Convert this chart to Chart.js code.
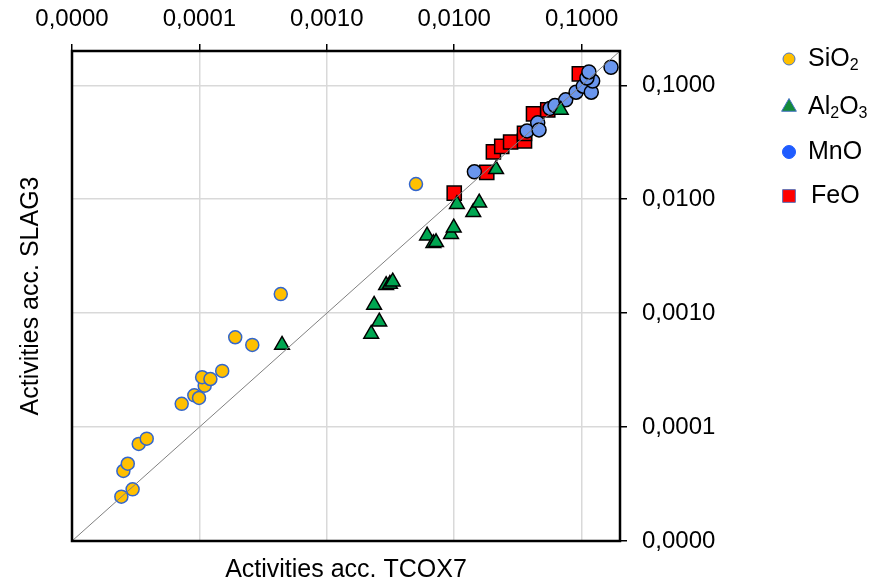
<!DOCTYPE html>
<html>
<head>
<meta charset="utf-8">
<script src="https://cdn.jsdelivr.net/npm/chart.js@4.4.0/dist/chart.umd.min.js"></script>
<style>
html, body { margin: 0; padding: 0; background: #fff; }
#wrap { width: 880px; height: 586px; }
</style>
</head>
<body>
<div id="wrap"><canvas id="activity-chart" width="880" height="586"></canvas></div>
<script>
// Trục log: các mốc chia và nhãn
const tickValues = [0.00001, 0.0001, 0.001, 0.01, 0.1];
const tickLabels = ["0,0000", "0,0001", "0,0010", "0,0100", "0,1000"];
const axisMin = 0.00001;
const axisMax = 0.2;

const xTitle = "Activities acc. TCOX7";
const yTitle = "Activities acc. SLAG3";

// Tên chuỗi (chẵn = chữ thường, lẻ = chỉ số dưới)
const seriesNames = ["SiO2", "Al2O3", "MnO", "FeO"];
const legendParts = [["SiO", "2"], ["Al", "2", "O", "3"], ["MnO"], ["FeO"]];

// Dữ liệu
const sio2X = [2.44e-5, 2.99e-5, 2.53e-5, 2.74e-5, 3.34e-5, 3.86e-5, 7.26e-5, 9.12e-5, 9.93e-5, 1.10e-4, 1.05e-4, 1.22e-4, 1.51e-4, 1.91e-4, 2.60e-4, 4.35e-4, 5.01e-3];
const sio2Y = [2.45e-5, 2.84e-5, 4.12e-5, 4.77e-5, 7.11e-5, 7.91e-5, 1.60e-4, 1.90e-4, 1.80e-4, 2.31e-4, 2.74e-4, 2.64e-4, 3.11e-4, 6.14e-4, 5.26e-4, 1.47e-3, 1.36e-2];

const al2o3X = [4.45e-4, 2.23e-3, 2.58e-3, 2.35e-3, 2.92e-3, 3.13e-3, 3.29e-3, 6.12e-3, 6.86e-3, 7.20e-3, 9.44e-3, 9.91e-3, 1.05e-2, 1.41e-2, 1.57e-2, 2.13e-2, 6.86e-2];
const al2o3Y = [5.26e-4, 6.57e-4, 8.42e-4, 1.18e-3, 1.76e-3, 1.80e-3, 1.89e-3, 4.79e-3, 4.11e-3, 4.19e-3, 4.93e-3, 5.63e-3, 9.04e-3, 7.69e-3, 9.33e-3, 1.83e-2, 6.08e-2];

const mnoX = [1.44e-2, 3.73e-2, 4.52e-2, 4.63e-2, 5.65e-2, 6.18e-2, 7.50e-2, 9.04e-2, 0.103, 0.119, 0.122, 0.110, 0.114, 0.170];
const mnoY = [1.74e-2, 3.98e-2, 4.68e-2, 4.06e-2, 6.27e-2, 6.64e-2, 7.45e-2, 8.70e-2, 9.82e-2, 8.70e-2, 0.109, 0.116, 0.131, 0.144];

const feoX = [1.00e-2, 1.80e-2, 2.03e-2, 2.36e-2, 2.77e-2, 3.56e-2, 3.56e-2, 4.19e-2, 5.42e-2, 9.59e-2];
const feoY = [1.13e-2, 1.72e-2, 2.60e-2, 2.91e-2, 3.18e-2, 3.25e-2, 3.78e-2, 5.61e-2, 6.08e-2, 0.126];

// Đường 1:1
const diagX = [axisMin, axisMax];
const diagY = [axisMin, axisMax];

const FONT = "'Liberation Sans', Arial, sans-serif";

function toPoints(xs, ys) {
    return xs.map((x, i) => ({ x: x, y: ys[i] }));
}

// Khung viền đậm quanh vùng vẽ
const framePlugin = {
    id: "frame",
    afterDatasetsDraw(chart) {
        const { ctx, chartArea: a } = chart;
        ctx.save();
        ctx.strokeStyle = "#000";
        ctx.lineWidth = 2.5;
        ctx.strokeRect(a.left, a.top, a.right - a.left, a.bottom - a.top);
        ctx.restore();
    }
};

// Chú thích tự vẽ (có chỉ số dưới)
const legendMarkers = [
    { style: "circle", radius: 6, fill: "#FFC000", stroke: "#4472C4" },
    { style: "triangle", radius: 8.5, fill: "#138A3A", stroke: "#4472C4" },
    { style: "circle", radius: 6.5, fill: "#1F5CFF", stroke: "#1F5CFF" },
    { style: "rect", radius: 9, fill: "#FF0000", stroke: "#5B6FB5" }
];
const legendY = [59, 107, 152, 196];

const legendPlugin = {
    id: "subLegend",
    afterDraw(chart) {
        const ctx = chart.ctx;
        ctx.save();
        legendParts.forEach((parts, i) => {
            const m = legendMarkers[i];
            const y = legendY[i];
            ctx.fillStyle = m.fill;
            ctx.strokeStyle = m.stroke;
            Chart.helpers.drawPoint(ctx, { pointStyle: m.style, radius: m.radius, rotation: 0, borderWidth: 1.5 }, 789, y);
            let x = i === 3 ? 811 : 808;
            ctx.fillStyle = "#000";
            ctx.textBaseline = "middle";
            ctx.textAlign = "left";
            parts.forEach((p, j) => {
                const sub = j % 2 === 1;
                ctx.font = (sub ? "16px " : "25px ") + FONT;
                ctx.fillText(p, x, sub ? y + 7 : y);
                x += ctx.measureText(p).width;
            });
        });
        ctx.restore();
    }
};

const ctx = document.getElementById("activity-chart").getContext("2d");

new Chart(ctx, {
    type: "scatter",
    data: {
        datasets: [
            {
                label: "1:1",
                data: toPoints(diagX, diagY),
                showLine: true,
                pointRadius: 0,
                borderColor: "#808080",
                borderWidth: 1
            },
            {
                label: seriesNames[0],
                data: toPoints(sio2X, sio2Y),
                pointStyle: "circle",
                pointRadius: 6.5,
                backgroundColor: "#FFC000",
                borderColor: "#3366CC",
                borderWidth: 1.5
            },
            {
                label: seriesNames[1],
                data: toPoints(al2o3X, al2o3Y),
                pointStyle: "triangle",
                pointRadius: 8.5,
                backgroundColor: "#00A651",
                borderColor: "#000",
                borderWidth: 1.5
            },
            {
                label: seriesNames[2],
                data: toPoints(mnoX, mnoY),
                pointStyle: "circle",
                pointRadius: 7,
                backgroundColor: "#6A96EE",
                borderColor: "#000",
                borderWidth: 1.5
            },
            {
                label: seriesNames[3],
                data: toPoints(feoX, feoY),
                pointStyle: "rect",
                pointRadius: 10,
                backgroundColor: "#FF0000",
                borderColor: "#000",
                borderWidth: 1.5
            }
        ]
    },
    options: {
        responsive: false,
        animation: false,
        devicePixelRatio: 1,
        layout: { padding: 0 },
        plugins: {
            legend: { display: false },
            tooltip: { enabled: false }
        },
        scales: {
            x: {
                type: "logarithmic",
                position: "top",
                min: axisMin,
                max: axisMax,
                afterBuildTicks: (scale) => { scale.ticks = tickValues.map(v => ({ value: v })); },
                afterFit: (scale) => { scale.height = 51; },
                ticks: {
                    callback: (value, index) => tickLabels[index],
                    font: { family: FONT, size: 24 },
                    color: "#000",
                    padding: 10,
                    maxRotation: 0,
                    autoSkip: false
                },
                grid: { color: "#D9D9D9", lineWidth: 1.5, tickLength: 7, tickColor: "#000", tickWidth: 1.5 },
                border: { display: false }
            },
            y: {
                type: "logarithmic",
                position: "right",
                min: axisMin,
                max: axisMax,
                afterBuildTicks: (scale) => { scale.ticks = tickValues.map(v => ({ value: v })); },
                afterFit: (scale) => { scale.width = 260; },
                ticks: {
                    callback: (value, index) => tickLabels[index],
                    font: { family: FONT, size: 24 },
                    color: "#000",
                    padding: 15,
                    autoSkip: false
                },
                grid: { color: "#D9D9D9", lineWidth: 1.5, tickLength: 7, tickColor: "#000", tickWidth: 1.5 },
                border: { display: false }
            },
            xTitle: {
                type: "linear",
                position: "bottom",
                afterFit: (scale) => { scale.height = 45; },
                ticks: { display: false },
                grid: { display: false },
                border: { display: false },
                title: { display: true, text: xTitle, color: "#000", font: { family: FONT, size: 25 }, padding: { top: 0, bottom: 1 } }
            },
            yTitle: {
                type: "linear",
                position: "left",
                afterFit: (scale) => { scale.width = 72; },
                ticks: { display: false },
                grid: { display: false },
                border: { display: false },
                title: { display: true, text: yTitle, color: "#000", font: { family: FONT, size: 25 }, padding: { top: 16, bottom: 0 } }
            }
        }
    },
    plugins: [framePlugin, legendPlugin]
});
</script>
</body>
</html>
